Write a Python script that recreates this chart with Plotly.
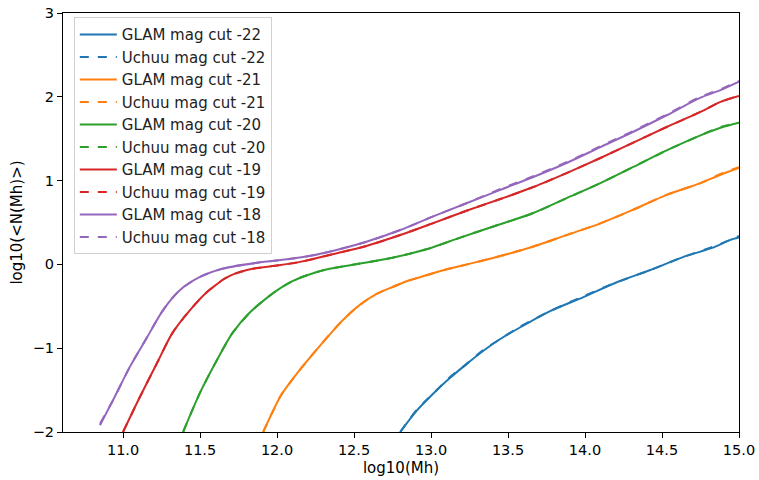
import plotly.graph_objects as go

# ---- data ----
x_m22 = [12.80, 12.91, 13.01, 13.12, 13.23, 13.34, 13.45, 13.58, 13.77, 13.99, 14.21, 14.42, 14.64, 14.83, 14.94, 15.0]
glam_m22 = [-2.0, -1.74, -1.55, -1.36, -1.19, -1.03, -0.89, -0.75, -0.56, -0.39, -0.21, -0.07, 0.09, 0.20, 0.29, 0.32]
uchuu_m22 = [-2.0, -1.73, -1.55, -1.35, -1.19, -1.02, -0.89, -0.74, -0.56, -0.38, -0.21, -0.07, 0.09, 0.21, 0.29, 0.34]

x_m21 = [11.91, 12.02, 12.06, 12.13, 12.21, 12.26, 12.34, 12.43, 12.54, 12.65, 12.75, 12.86, 12.97, 13.08, 13.19, 13.30, 13.45, 13.66, 13.88, 14.10, 14.31, 14.53, 14.75, 14.88, 15.0]
glam_m21 = [-2.0, -1.58, -1.47, -1.30, -1.12, -1.01, -0.84, -0.66, -0.48, -0.35, -0.27, -0.19, -0.13, -0.07, -0.02, 0.03, 0.10, 0.21, 0.35, 0.49, 0.65, 0.83, 0.97, 1.07, 1.15]
uchuu_m21 = [-2.0, -1.58, -1.47, -1.30, -1.12, -1.01, -0.84, -0.66, -0.48, -0.35, -0.27, -0.19, -0.13, -0.07, -0.02, 0.03, 0.10, 0.21, 0.35, 0.49, 0.65, 0.83, 0.97, 1.08, 1.16]

x_m20 = [11.39, 11.50, 11.61, 11.71, 11.82, 11.90, 12.00, 12.10, 12.21, 12.32, 12.54, 12.75, 12.97, 13.19, 13.40, 13.66, 13.88, 14.10, 14.31, 14.53, 14.75, 14.88, 15.0]
glam_m20 = [-2.0, -1.53, -1.14, -0.82, -0.58, -0.45, -0.31, -0.20, -0.12, -0.06, 0.01, 0.08, 0.18, 0.32, 0.45, 0.61, 0.79, 0.97, 1.16, 1.36, 1.54, 1.63, 1.69]
uchuu_m20 = [-2.0, -1.53, -1.14, -0.82, -0.58, -0.45, -0.31, -0.20, -0.12, -0.06, 0.01, 0.08, 0.18, 0.32, 0.45, 0.61, 0.79, 0.97, 1.16, 1.36, 1.54, 1.64, 1.69]

x_m19 = [11.00, 11.11, 11.22, 11.32, 11.435, 11.545, 11.60, 11.65, 11.70, 11.76, 11.85, 11.97, 12.15, 12.36, 12.58, 12.80, 13.01, 13.23, 13.45, 13.66, 13.88, 14.10, 14.31, 14.53, 14.75, 14.88, 15.0]
glam_m19 = [-2.0, -1.58, -1.18, -0.82, -0.545, -0.33, -0.25, -0.18, -0.13, -0.09, -0.05, -0.02, 0.03, 0.12, 0.22, 0.35, 0.49, 0.64, 0.78, 0.92, 1.09, 1.27, 1.45, 1.64, 1.82, 1.94, 2.01]
uchuu_m19 = [-2.0, -1.58, -1.18, -0.82, -0.545, -0.33, -0.25, -0.18, -0.13, -0.09, -0.05, -0.02, 0.03, 0.12, 0.22, 0.35, 0.49, 0.64, 0.78, 0.92, 1.09, 1.27, 1.45, 1.64, 1.82, 1.94, 2.01]

x_m18 = [10.85, 10.935, 11.045, 11.156, 11.26, 11.37, 11.50, 11.65, 11.87, 12.08, 12.21, 12.36, 12.58, 12.80, 13.01, 13.23, 13.45, 13.66, 13.88, 14.10, 14.31, 14.53, 14.75, 14.88, 15.0]
glam_m18 = [-1.92, -1.62, -1.22, -0.87, -0.545, -0.305, -0.15, -0.05, 0.02, 0.065, 0.10, 0.16, 0.27, 0.41, 0.57, 0.73, 0.89, 1.04, 1.21, 1.40, 1.58, 1.78, 1.99, 2.08, 2.18]
uchuu_m18 = [-1.90, -1.62, -1.22, -0.87, -0.545, -0.305, -0.15, -0.05, 0.02, 0.065, 0.10, 0.16, 0.27, 0.41, 0.57, 0.73, 0.90, 1.05, 1.22, 1.41, 1.59, 1.79, 2.00, 2.09, 2.19]

cuts = ["-22", "-21", "-20", "-19", "-18"]
xs = [x_m22, x_m21, x_m20, x_m19, x_m18]
glam = [glam_m22, glam_m21, glam_m20, glam_m19, glam_m18]
uchuu = [uchuu_m22, uchuu_m21, uchuu_m20, uchuu_m19, uchuu_m18]
colors = ["#1f77b4", "#ff7f0e", "#2ca02c", "#d62728", "#9467bd"]

x_ticks = [11.0, 11.5, 12.0, 12.5, 13.0, 13.5, 14.0, 14.5, 15.0]
y_ticks = [-2, -1, 0, 1, 2, 3]

fig = go.Figure()
k = 0
for cut, x, g, u, c in zip(cuts, xs, glam, uchuu, colors):
    fig.add_trace(go.Scatter(x=x, y=g, mode="lines", name=f"GLAM mag cut {cut}",
                             line=dict(color=c, width=2, shape="spline", smoothing=0.8),
                             legendgroup=f"g{k}"))
    k += 1
    fig.add_trace(go.Scatter(x=x, y=u, mode="lines", name=f"Uchuu mag cut {cut}",
                             line=dict(color=c, width=2, dash="dash", shape="spline", smoothing=0.8),
                             legendgroup=f"g{k}"))
    k += 1

font = "DejaVu Sans, sans-serif"
fig.update_layout(
    width=759, height=480,
    margin=dict(l=63, r=20, t=13, b=48, autoexpand=False),
    paper_bgcolor="white", plot_bgcolor="white",
    font=dict(family=font, size=14.5, color="black"),
    showlegend=True,
    legend=dict(x=0.016, y=0.99, xanchor="left", yanchor="top",
                bgcolor="rgba(255,255,255,0.8)", bordercolor="#d0d0d0", borderwidth=1,
                font=dict(family=font, size=15, color="#222"),
                tracegroupgap=0.5, traceorder="normal", itemwidth=37),
    xaxis=dict(range=[10.61, 15.0], tickvals=x_ticks, ticktext=[f"{v:.1f}" for v in x_ticks],
               showgrid=False, zeroline=False, showline=True, linecolor="black", linewidth=1,
               mirror=True, ticks="outside", ticklen=5, tickcolor="black", automargin=False,
               title=dict(text="log10(Mh)", standoff=5, font=dict(size=15))),
    yaxis=dict(range=[-2, 3], tickvals=y_ticks, ticktext=["\u22122", "\u22121", "0", "1", "2", "3"],
               showgrid=False, zeroline=False, showline=True, linecolor="black", linewidth=1,
               mirror=True, ticks="outside", ticklen=5, tickcolor="black", automargin=False,
               title=dict(text="log10(<N(Mh)>)", standoff=6, font=dict(size=15))),
)

fig.write_html("out.html")
